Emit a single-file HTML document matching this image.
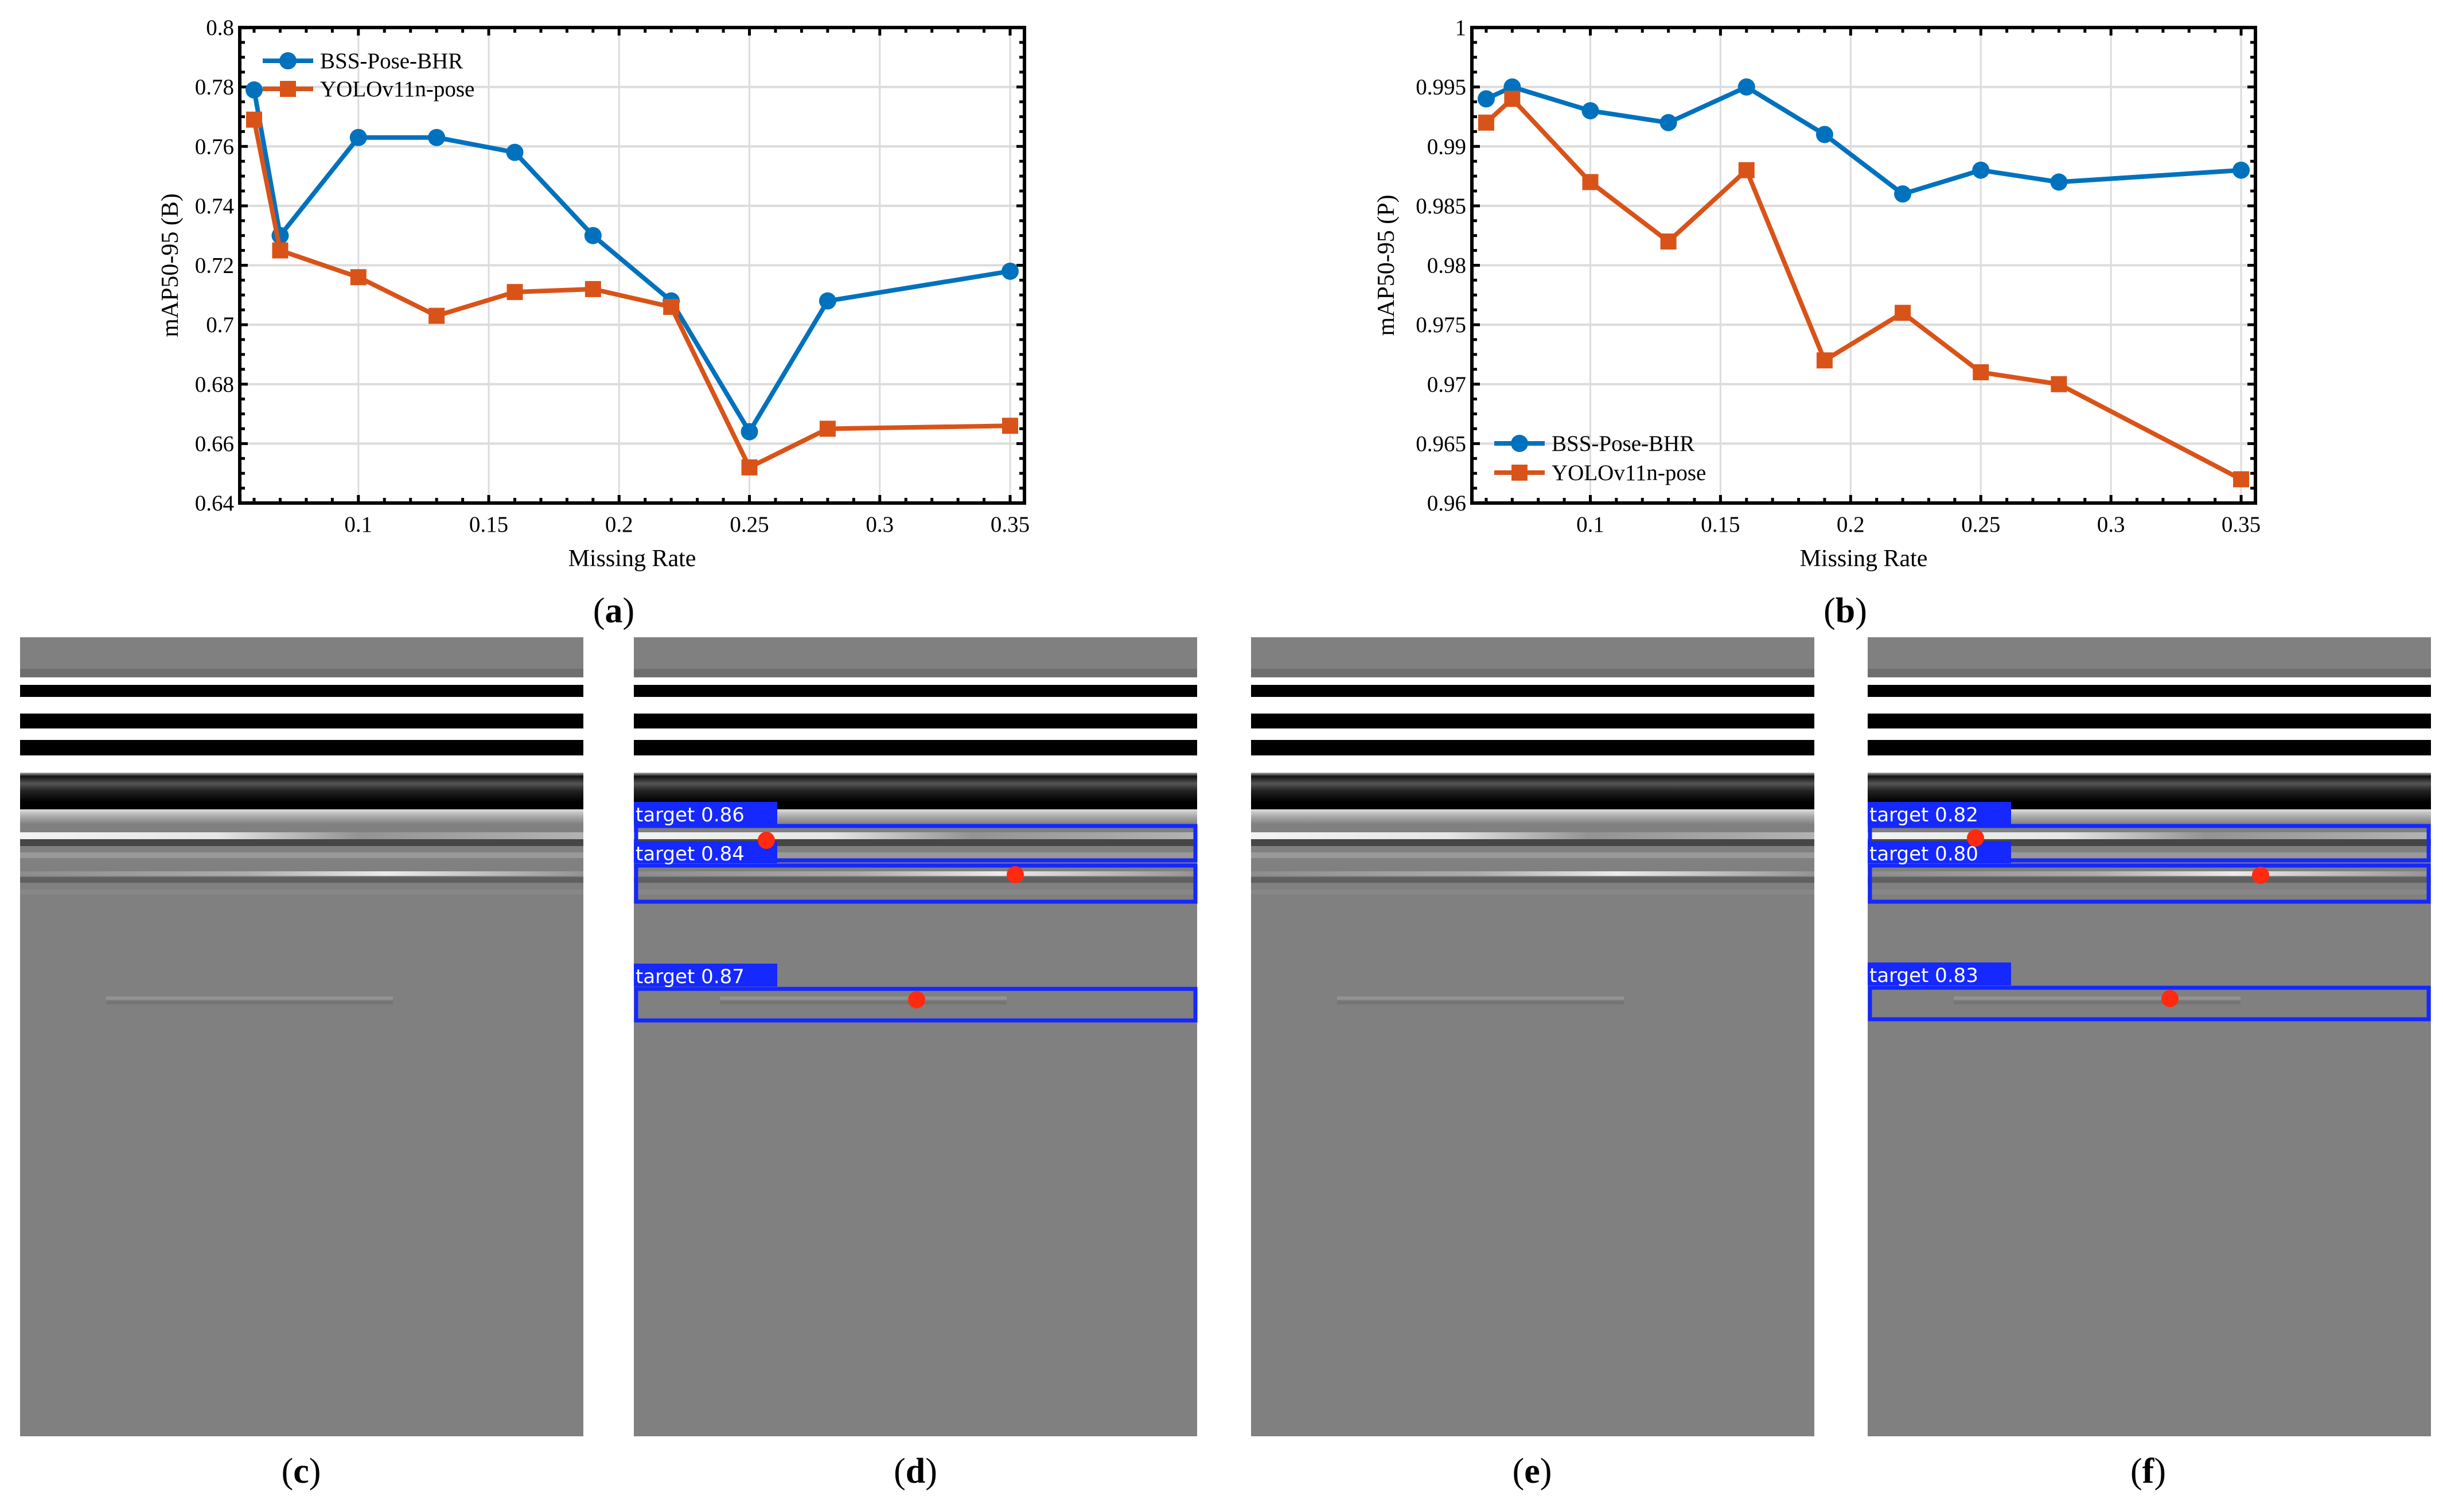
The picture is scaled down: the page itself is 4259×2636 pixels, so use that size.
<!DOCTYPE html>
<html><head><meta charset="utf-8"><style>
html,body{margin:0;padding:0;background:#fff}
svg{display:block}
text{font-family:"Liberation Serif",serif}
.lbl{font-family:"DejaVu Sans","Liberation Sans",sans-serif;fill:#fff;font-size:34px}
</style></head><body>
<svg id="root" width="4259" height="2636" viewBox="0 0 4259 2636" xmlns="http://www.w3.org/2000/svg">
<defs>
<linearGradient id="fadeL" x1="0" x2="1" y1="0" y2="0">
<stop offset="0" stop-color="#fff" stop-opacity="0.9"/><stop offset="0.35" stop-color="#fff" stop-opacity="0.8"/><stop offset="0.6" stop-color="#fff" stop-opacity="0.15"/><stop offset="1" stop-color="#fff" stop-opacity="0.4"/></linearGradient>
<linearGradient id="fadeR" x1="0" x2="1" y1="0" y2="0">
<stop offset="0" stop-color="#fff" stop-opacity="0.1"/><stop offset="0.4" stop-color="#fff" stop-opacity="0.35"/><stop offset="0.65" stop-color="#fff" stop-opacity="0.85"/><stop offset="1" stop-color="#fff" stop-opacity="0.15"/></linearGradient>
<linearGradient id="topdark" x1="0" x2="0" y1="0" y2="1">
<stop offset="0" stop-color="#aaa"/><stop offset="0.1" stop-color="#111"/><stop offset="0.3" stop-color="#555"/><stop offset="0.5" stop-color="#222"/><stop offset="0.8" stop-color="#000"/><stop offset="1" stop-color="#000"/></linearGradient>
<linearGradient id="afterdark" x1="0" x2="0" y1="0" y2="1">
<stop offset="0" stop-color="#ddd"/><stop offset="0.5" stop-color="#a8a8a8"/><stop offset="1" stop-color="#808080"/></linearGradient>
<g id="gpr">
<rect x="0" y="0" width="982" height="1393" fill="#808080"/>
<rect x="0" y="55" width="982" height="14" fill="#6e6e6e"/>
<rect x="0" y="70" width="982" height="13" fill="#fff"/>
<rect x="0" y="83" width="982" height="21" fill="#000"/>
<rect x="0" y="104" width="982" height="29" fill="#fff"/>
<rect x="0" y="133" width="982" height="26" fill="#000"/>
<rect x="0" y="159" width="982" height="20" fill="#fff"/>
<rect x="0" y="179" width="982" height="27" fill="#000"/>
<rect x="0" y="206" width="982" height="30" fill="#fff"/>
<rect x="0" y="236" width="982" height="64" fill="url(#topdark)"/>
<rect x="0" y="300" width="982" height="26" fill="url(#afterdark)"/>
<rect x="0" y="340" width="982" height="12" fill="url(#fadeL)"/>
<rect x="0" y="352" width="982" height="12" fill="#000" opacity="0.45"/>
<rect x="0" y="375" width="982" height="10" fill="#999"/>
<rect x="0" y="408" width="982" height="8" fill="url(#fadeR)"/>
<rect x="0" y="418" width="982" height="10" fill="#000" opacity="0.25"/>
<rect x="0" y="440" width="982" height="8" fill="#888"/>
<rect x="150" y="626" width="500" height="6" fill="#929292"/>
<rect x="150" y="634" width="500" height="6" fill="#757575"/>
</g>
</defs>

<g><use href="#gpr" x="35" y="1111"/></g>
<g><use href="#gpr" x="1105" y="1111"/>
<g fill="none" stroke="#1428ff" stroke-width="7">
<rect x="1109" y="1440" width="975" height="60"/>
<rect x="1109" y="1509" width="975" height="63"/>
<rect x="1109" y="1724" width="975" height="55"/>
</g>
<rect x="1105" y="1398" width="250" height="40" fill="#1428ff"/><text class="lbl" x="1108" y="1432">target 0.86</text>
<rect x="1105" y="1467" width="250" height="38" fill="#1428ff"/><text class="lbl" x="1108" y="1500">target 0.84</text>
<rect x="1105" y="1680" width="250" height="40" fill="#1428ff"/><text class="lbl" x="1108" y="1714">target 0.87</text>
<g fill="#ff2a10"><circle cx="1336" cy="1465" r="15"/><circle cx="1770" cy="1525" r="15"/><circle cx="1598" cy="1743" r="15"/></g>
</g>
<g><use href="#gpr" x="2181" y="1111"/></g>
<g><use href="#gpr" x="3256" y="1111"/>
<g fill="none" stroke="#1428ff" stroke-width="7">
<rect x="3260" y="1440" width="974" height="60"/>
<rect x="3260" y="1509" width="974" height="63"/>
<rect x="3260" y="1722" width="974" height="55"/>
</g>
<rect x="3256" y="1398" width="250" height="40" fill="#1428ff"/><text class="lbl" x="3259" y="1432">target 0.82</text>
<rect x="3256" y="1467" width="250" height="38" fill="#1428ff"/><text class="lbl" x="3259" y="1500">target 0.80</text>
<rect x="3256" y="1678" width="250" height="40" fill="#1428ff"/><text class="lbl" x="3259" y="1712">target 0.83</text>
<g fill="#ff2a10"><circle cx="3444" cy="1461" r="15"/><circle cx="3941" cy="1526" r="15"/><circle cx="3783" cy="1741" r="15"/></g>
</g>

<g font-size="62" text-anchor="middle">
<text x="1070" y="1085">(<tspan font-weight="bold">a</tspan>)</text>
<text x="3217" y="1085">(<tspan font-weight="bold">b</tspan>)</text>
<text x="525" y="2585">(<tspan font-weight="bold">c</tspan>)</text>
<text x="1596" y="2585">(<tspan font-weight="bold">d</tspan>)</text>
<text x="2671" y="2585">(<tspan font-weight="bold">e</tspan>)</text>
<text x="3745" y="2585">(<tspan font-weight="bold">f</tspan>)</text>
</g>
<g id="chartA"></g>
<g id="chartB"></g>
</svg>
<script>
const missingRate = [0.06, 0.07, 0.10, 0.13, 0.16, 0.19, 0.22, 0.25, 0.28, 0.35];
const bssA = [0.779, 0.730, 0.763, 0.763, 0.758, 0.730, 0.708, 0.664, 0.708, 0.718];
const yoloA = [0.769, 0.725, 0.716, 0.703, 0.711, 0.712, 0.706, 0.652, 0.665, 0.666];
const bssB = [0.994, 0.995, 0.993, 0.992, 0.995, 0.991, 0.986, 0.988, 0.987, 0.988];
const yoloB = [0.992, 0.994, 0.987, 0.982, 0.988, 0.972, 0.976, 0.971, 0.970, 0.962];
const xTicks = [0.1, 0.15, 0.2, 0.25, 0.3, 0.35];
const yTicksA = [0.64, 0.66, 0.68, 0.7, 0.72, 0.74, 0.76, 0.78, 0.8];
const yTickLabelsA = ["0.64","0.66","0.68","0.7","0.72","0.74","0.76","0.78","0.8"];
const yTicksB = [0.96, 0.965, 0.97, 0.975, 0.98, 0.985, 0.99, 0.995, 1];
const yTickLabelsB = ["0.96","0.965","0.97","0.975","0.98","0.985","0.99","0.995","1"];
const seriesNames = ["BSS-Pose-BHR", "YOLOv11n-pose"];

const NS = "http://www.w3.org/2000/svg";
function mk(parent, tag, attrs, txt){
  const e = document.createElementNS(NS, tag);
  for (const k in attrs) e.setAttribute(k, attrs[k]);
  if (txt !== undefined) e.textContent = txt;
  parent.appendChild(e); return e;
}
function drawChart(g, cfg){
  const L=cfg.L, R=cfg.R, T=48, B=877;
  const xs = v => L + (v-0.0545)/(0.3555-0.0545)*(R-L);
  const ys = v => B - (v-cfg.ymin)/(cfg.ymax-cfg.ymin)*(B-T);
  cfg.yTicks.forEach(v=>{ const l=mk(g,'line',{x1:L,x2:R,y1:ys(v),y2:ys(v),stroke:'#dcdcdc','stroke-width':4});
     });
  xTicks.forEach(v=>{ const l=mk(g,'line',{x1:xs(v),x2:xs(v),y1:T,y2:B,stroke:'#dcdcdc','stroke-width':3});
     });
  const ystep = (cfg.yTicks[1]-cfg.yTicks[0])/4;
  for (let v=cfg.ymin; v<=cfg.ymax+1e-9; v+=ystep){
    const maj = Math.abs(((v-cfg.ymin)/(ystep*4)) - Math.round((v-cfg.ymin)/(ystep*4)))<1e-6;
    const len = maj?14:9;
    mk(g,'line',{x1:L,x2:L+len,y1:ys(v),y2:ys(v),stroke:'#000','stroke-width':5});
    mk(g,'line',{x1:R,x2:R-len,y1:ys(v),y2:ys(v),stroke:'#000','stroke-width':5});
  }
  for (let i=6;i<=35;i++){ const v=i/100; const maj=(i%5===0); const len=maj?14:9;
    mk(g,'line',{x1:xs(v),x2:xs(v),y1:B,y2:B-len,stroke:'#000','stroke-width':5});
    mk(g,'line',{x1:xs(v),x2:xs(v),y1:T,y2:T+len,stroke:'#000','stroke-width':5});
  }
  const fr = mk(g,'rect',{x:L,y:T,width:R-L,height:B-T,fill:'none',stroke:'#000','stroke-width':6});
   
  cfg.yTicks.forEach((v,i)=>{ const t=mk(g,'text',{x:L-10,y:ys(v)+13,'font-size':39,'text-anchor':'end'},cfg.yLabels[i]);
     });
  xTicks.forEach(v=>{ const t=mk(g,'text',{x:xs(v),y:B+50,'font-size':39,'text-anchor':'middle'},String(v));
     });
  const xt = mk(g,'text',{x:(L+R)/2,y:B+110,'font-size':42,'text-anchor':'middle'},'Missing Rate');
   
  const yt = mk(g,'text',{x:0,y:0,'font-size':42,'text-anchor':'middle',transform:`translate(${cfg.ytx},${(T+B)/2}) rotate(-90)`},cfg.ytitle);
   
  const cols=['#0072bd','#d95319'];
  [cfg.s1,cfg.s2].forEach((s,si)=>{
    const pts = missingRate.map((x,i)=>xs(x)+','+ys(s[i])).join(' ');
    const pl = mk(g,'polyline',{points:pts,fill:'none',stroke:cols[si],'stroke-width':8,'stroke-linejoin':'round'});
    
    
    missingRate.forEach((x,i)=>{
      let m;
      if (si===0) m = mk(g,'circle',{cx:xs(x),cy:ys(s[i]),r:15,fill:cols[0]});
      else m = mk(g,'rect',{x:xs(x)-14,y:ys(s[i])-14,width:28,height:28,fill:cols[1]});
      
      
    });
  });
  cfg.leg.forEach((ly,si)=>{
    const lx=cfg.legx;
    mk(g,'line',{x1:lx,x2:lx+88,y1:ly,y2:ly,stroke:cols[si],'stroke-width':8});
    if (si===0) mk(g,'circle',{cx:lx+44,cy:ly,r:15,fill:cols[0]});
    else mk(g,'rect',{x:lx+30,y:ly-14,width:28,height:28,fill:cols[1]});
    const t = mk(g,'text',{x:lx+100,y:ly+13,'font-size':39},seriesNames[si]);
     
  });
}
drawChart(document.getElementById('chartA'),{L:418,R:1786,ymin:0.64,ymax:0.8,yTicks:yTicksA,yLabels:yTickLabelsA,s1:bssA,s2:yoloA,ytitle:'mAP50-95 (B)',ytx:310,legx:458,leg:[106,155]});
drawChart(document.getElementById('chartB'),{L:2566,R:3932,ymin:0.96,ymax:1,yTicks:yTicksB,yLabels:yTickLabelsB,s1:bssB,s2:yoloB,ytitle:'mAP50-95 (P)',ytx:2430,legx:2605,leg:[773,824]});
</script>
</body></html>
